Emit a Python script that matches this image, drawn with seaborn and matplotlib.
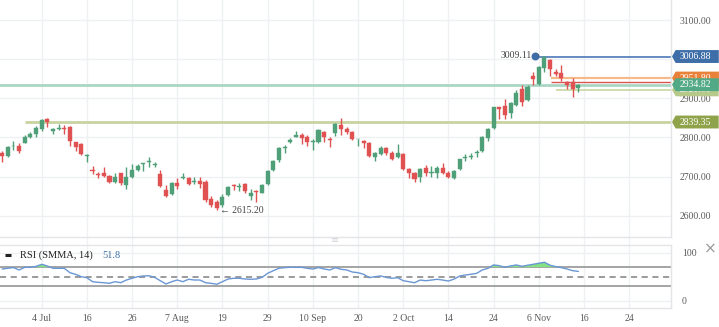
import numpy as np
import pandas as pd
import matplotlib
matplotlib.use("Agg")
import matplotlib.pyplot as plt
import seaborn as sns
from matplotlib.path import Path
import matplotlib.transforms as mtransforms

# ---------------- data ----------------
opens = [2761, 2753, 2777, 2779, 2786, 2802, 2809, 2822, 2846, 2817,
         2821, 2823, 2827, 2788, 2783, 2753, 2717, 2706, 2710, 2701,
         2687, 2708, 2678, 2698, 2717, 2731, 2738, 2729, 2706, 2666,
         2655, 2683, 2695, 2695, 2687, 2689, 2685, 2643, 2636, 2627,
         2653, 2678, 2674, 2680, 2650, 2663, 2659, 2681, 2717, 2741,
         2774, 2788, 2802, 2806, 2801, 2788, 2788, 2815, 2796, 2810,
         2832, 2821, 2815, 2795, 2792, 2786, 2751, 2757, 2772, 2761,
         2749, 2758, 2718, 2708, 2698, 2721, 2709, 2710, 2723, 2708,
         2697, 2718, 2747, 2751, 2759, 2765, 2798, 2823, 2877, 2880,
         2862, 2883, 2924, 2896, 2957, 2937, 2977, 2998, 2966, 2964,
         2942, 2942, 2926]
highs = [2764, 2778, 2791, 2785, 2806, 2813, 2829, 2846, 2849, 2823,
         2834, 2832, 2830, 2789, 2785, 2758, 2727, 2712, 2725, 2704,
         2710, 2710, 2724, 2731, 2732, 2735, 2751, 2738, 2717, 2678,
         2687, 2696, 2708, 2698, 2698, 2700, 2691, 2650, 2640, 2655,
         2676, 2681, 2683, 2683, 2668, 2666, 2681, 2717, 2742, 2776,
         2781, 2798, 2816, 2811, 2806, 2796, 2821, 2817, 2802, 2836,
         2849, 2826, 2817, 2797, 2793, 2789, 2763, 2778, 2776, 2765,
         2782, 2759, 2721, 2712, 2721, 2730, 2727, 2727, 2734, 2715,
         2717, 2746, 2758, 2759, 2768, 2804, 2823, 2879, 2879, 2897,
         2891, 2921, 2934, 2934, 2966, 2983, 3009.11, 3001, 2975, 2985,
         2943, 2952, 2937]
lows = [2738, 2750, 2768, 2761, 2785, 2798, 2800, 2816, 2827, 2808,
        2818, 2808, 2779, 2764, 2755, 2738, 2706, 2695, 2698, 2683,
        2683, 2678, 2667, 2695, 2714, 2715, 2724, 2724, 2672, 2647,
        2653, 2667, 2694, 2678, 2680, 2670, 2636, 2623, 2615.2, 2621,
        2650, 2666, 2663, 2659, 2640, 2636, 2657, 2678, 2715, 2736,
        2759, 2786, 2800, 2782, 2778, 2768, 2785, 2789, 2776, 2804,
        2806, 2809, 2793, 2778, 2772, 2751, 2740, 2755, 2755, 2742,
        2747, 2717, 2695, 2687, 2687, 2701, 2700, 2697, 2706, 2695,
        2693, 2717, 2740, 2744, 2751, 2763, 2791, 2821, 2846, 2846,
        2850, 2880, 2880, 2893, 2934, 2934, 2967, 2958, 2957, 2945,
        2923, 2904, 2916]
closes = [2753, 2775, 2779, 2766, 2802, 2809, 2825, 2844, 2839, 2822,
          2823, 2821, 2792, 2776, 2757, 2755, 2715, 2704, 2701, 2685,
          2700, 2683, 2700, 2717, 2728, 2734, 2740, 2731, 2676, 2650,
          2684, 2677, 2698, 2681, 2689, 2681, 2639, 2627, 2619, 2647,
          2672, 2676, 2677, 2662, 2659, 2661, 2678, 2715, 2740, 2774,
          2776, 2793, 2806, 2798, 2787, 2789, 2818, 2800, 2794, 2834,
          2821, 2815, 2796, 2796, 2786, 2753, 2761, 2772, 2759, 2746,
          2759, 2718, 2708, 2694, 2718, 2708, 2711, 2721, 2708, 2700,
          2714, 2744, 2749, 2753, 2762, 2802, 2822, 2877, 2873, 2857,
          2887, 2913, 2891, 2930, 2949, 2981, 3006, 2974, 2961, 2951,
          2934, 2923, 2934.82]
rsi = [66, 67.5, 69, 64, 69.5, 69.5, 71.5, 75.8, 72.3, 67.5,
       67.5, 67.5, 58.3, 54.9, 50, 47.9, 39.6, 38.2, 37.5, 36.2,
       39.6, 37.5, 43.1, 46.7, 50, 51.5, 52, 48.5, 41.6, 34.8,
       39.6, 43.1, 39.6, 44.6, 43.1, 43.1, 37.5, 36.2, 34.2, 39.6,
       45.2, 46.7, 46.7, 45.2, 44.6, 45.2, 48.5, 57, 62.5, 67.5,
       68.8, 69.6, 69.5, 69.5, 67.5, 66, 69, 66, 64, 68.8,
       65.4, 64, 59.7, 58.3, 55, 48, 50, 51.5, 48.5, 46.7,
       48, 41.6, 39.6, 37.5, 43, 41.6, 43, 44.6, 43, 41,
       45, 51.5, 53.5, 55, 57, 64, 67.5, 74.5, 73, 69.5,
       72.3, 74.5, 71.7, 73.8, 75.8, 78, 80, 73.8, 71, 68.8,
       66, 62.5, 61]

date_tick_idx = [7, 15, 23, 31, 39, 47, 55, 63, 71, 79, 87, 95, 103, 111]
date_tick_labels = ["4 Jul", "16", "26", "7 Aug", "19", "29", "10 Sep", "20",
                    "2 Oct", "14", "24", "6 Nov", "16", "24"]
price_ticks = [2600, 2700, 2800, 2900, 3000, 3100]
rsi_ticks = [0, 100]

# horizontal levels: value, start index, line colour, width
level_values = [2839.35, 2921.60, 2951.80, 2941.50, 3006.88, 2934.82]
level_starts = [4.0, 98.1, 97.1, 97.1, 94.3, -1.0]
level_colors = ["#c9d3a0", "#c9d6a2", "#f6b98a", "#d9534f", "#4a78b8", "#a9d7c4"]
level_widths = [2.0, 1.2, 1.6, 1.0, 1.2, 2.0]
label_values = [2839.35, 2921.60, 2951.80, 3006.88, 2934.82]
label_colors = ["#8fa34b", "#b7c98a", "#e8823a", "#3e6ea7", "#52a985"]

peak_high = 3009.11
trough_low = 2615.20
rsi_last_text = "51.8"

# ---------------- style ----------------
sns.set_theme(style="white")
plt.rcParams["font.family"] = ["Liberation Serif", "DejaVu Sans"]

W, H = 719, 327
fig = plt.figure(figsize=(W / 100, H / 100), dpi=100)
fig.patch.set_facecolor("white")

main_top, main_bot = 0, 237
rsi_top, rsi_bot = 245, 308
plot_right = 671

ax = fig.add_axes([0, 1 - main_bot / H, plot_right / W, (main_bot - main_top) / H])
ax2 = fig.add_axes([0, 1 - rsi_bot / H, plot_right / W, (rsi_bot - rsi_top) / H])

x_lo, x_hi = -0.38, 118.4
grid_c = "#eef0f3"
txt_c = "#5a5a5a"
green = "#4f9f78"
red = "#e05252"

df = pd.DataFrame({"open": opens, "high": highs, "low": lows, "close": closes, "rsi": rsi})
df["idx"] = np.arange(len(df))
df["up"] = df["close"] >= df["open"]
df["body_lo"] = df[["open", "close"]].min(axis=1)
df["body_h"] = (df["close"] - df["open"]).abs().clip(lower=2.2)
df["col"] = np.where(df["up"], green, red)

# vertical grid across the whole figure height of both panels
for t in date_tick_idx:
    xf = (t - x_lo) / (x_hi - x_lo) * plot_right / W
    fig.add_artist(plt.Line2D([xf, xf], [1 - rsi_bot / H, 1.0], color=grid_c, lw=1, zorder=0))

# ---- main panel ----
ax.set_xlim(x_lo, x_hi)
ax.set_ylim(2545.3, 3151.4)
ax.patch.set_alpha(0)
ax2.patch.set_alpha(0)
for t in price_ticks:
    ax.axhline(t, color=grid_c, lw=1, zorder=0)

# level lines
for v, s, c, w in zip(level_values, level_starts, level_colors, level_widths):
    ax.hlines(v, s, x_hi, color=c, lw=w, zorder=1)

ax.vlines(df["idx"], df["low"], df["high"], colors=df["col"], lw=1.0, zorder=2)
ax.bar(df["idx"], df["body_h"], bottom=df["body_lo"], width=0.72,
       color=df["col"], edgecolor=df["col"], linewidth=0.3, zorder=3)

# peak / trough annotations
i_peak = int(np.argmax(highs))
i_trough = int(np.argmin(lows))
ax.scatter([i_peak - 1.7], [peak_high], s=22, color="#3e6ea7", zorder=5)
ax.text(i_peak - 2.2, peak_high, f"{peak_high:.2f}", ha="right", va="center",
        fontsize=7, color="#444444", zorder=5)
ax.text(i_peak - 1.1, peak_high + 1, "\u203a", ha="center", va="center",
        fontsize=6, color="#555555", zorder=5)
ax.text(i_trough + 0.55, trough_low - 1, "\u2190 " + f"{trough_low:.2f}", ha="left", va="center",
        fontsize=7, color="#444444", zorder=5, family=["Liberation Serif", "DejaVu Sans"])

ax.set_yticks(price_ticks)
ax.set_yticklabels([f"{t:.2f}" for t in price_ticks])
ax.yaxis.tick_right()
ax.tick_params(axis="y", length=0, pad=6.5, labelsize=7, labelcolor=txt_c)
ax.set_xticks([])
for s in ["left", "top"]:
    ax.spines[s].set_visible(False)
ax.spines["right"].set_color("#e3e5e8")
ax.spines["bottom"].set_color("#e3e5e8")
ax.spines["right"].set_linewidth(1)
ax.spines["bottom"].set_linewidth(1)


def tag_box(x0, y0, width, height, mutation_size):
    pl = 0.45 * mutation_size
    pr = 0.75 * mutation_size
    pv = 0.2 * mutation_size
    left = x0 - pl
    right = x0 + width + pr
    bot = y0 - pv
    top = y0 + height + pv
    tip = 0.28 * (top - bot)
    verts = [(left, bot), (right, bot), (right, top), (left, top),
             (left - tip, (bot + top) / 2), (left, bot)]
    codes = [Path.MOVETO, Path.LINETO, Path.LINETO, Path.LINETO, Path.LINETO, Path.CLOSEPOLY]
    return Path(verts, codes)


trans = mtransforms.blended_transform_factory(ax.transAxes, ax.transData)
for v, c in zip(label_values, label_colors):
    ax.text(680 / plot_right, v, f"{v:.2f}", transform=trans, ha="left", va="center",
            fontsize=7, color="white", clip_on=False, zorder=10,
            bbox=dict(boxstyle=tag_box, facecolor=c, edgecolor="none"))

# ---- RSI panel ----
ax2.set_xlim(x_lo, x_hi)
ax2.set_ylim(-15.2, 116)
for t in rsi_ticks:
    ax2.axhline(t, color=grid_c, lw=1, zorder=0)
ax2.axhline(70, color="#8c8c8c", lw=1.1, zorder=1)
ax2.axhline(30, color="#8c8c8c", lw=1.1, zorder=1)
ax2.axhline(50, color="#808080", lw=1.1, ls=(0, (4, 3)), zorder=1)
rsi_arr = df["rsi"].to_numpy()
ax2.fill_between(df["idx"], 70, rsi_arr, where=rsi_arr > 70, interpolate=True,
                 color="#84e184", lw=0, zorder=2)
sns.lineplot(data=df, x="idx", y="rsi", ax=ax2, color="#6a97d4", lw=1.0, zorder=3)
ax2.set_xlabel("")
ax2.set_ylabel("")
ax2.set_xticks(date_tick_idx)
ax2.set_xticklabels(date_tick_labels)
ax2.set_yticks(rsi_ticks)
ax2.yaxis.tick_right()
ax2.tick_params(axis="y", length=0, pad=8, labelsize=7, labelcolor=txt_c)
ax2.tick_params(axis="x", length=0, pad=4, labelsize=7, labelcolor=txt_c)
ax2.spines["left"].set_visible(False)
for s in ["top", "bottom", "right"]:
    ax2.spines[s].set_color("#e3e5e8")
    ax2.spines[s].set_linewidth(1)

ax2.plot([0.008, 0.017], [0.84, 0.84], transform=ax2.transAxes, color="#222222", lw=2.2,
         solid_capstyle="butt")
ax2.text(20 / plot_right, 0.84, "RSI (SMMA, 14)", transform=ax2.transAxes, ha="left",
         va="center", fontsize=7.5, color="#222222")
ax2.text(102 / plot_right, 0.84, rsi_last_text, transform=ax2.transAxes, ha="left",
         va="center", fontsize=7.5, color="#3e6ea7")

# decorative icons
fig.text(335 / W, 1 - 240.5 / H, "\u2261", ha="center", va="center", fontsize=7,
         color="#d0d4d8", family=["DejaVu Sans"])
fig.text(710 / W, 1 - 249 / H, "\u00d7", ha="center", va="center", fontsize=11,
         color="#9a9a9a", family=["DejaVu Sans"])

fig.savefig("out.png", dpi=100, facecolor="white")
